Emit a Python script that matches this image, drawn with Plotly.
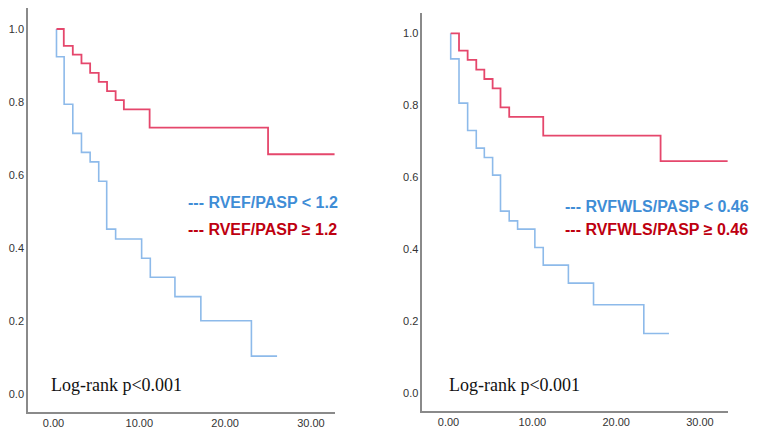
import plotly.graph_objects as go

W, H = 757, 435

# Left panel (RVEF/PASP)
left_blue_t = [0.35, 0.35, 1.24, 2.25, 3.26, 4.27, 5.27, 6.2, 7.24, 10.27, 11.28, 14.15, 17.17, 23.06, 26.05]
left_blue_s = [1.0, 0.924, 0.794, 0.714, 0.662, 0.636, 0.583, 0.452, 0.425, 0.372, 0.320, 0.267, 0.201, 0.104, 0.104]
left_red_t = [0.35, 1.2, 2.25, 3.26, 4.27, 5.27, 6.24, 7.24, 8.2, 11.2, 25.0, 32.75]
left_red_s = [1.0, 0.954, 0.930, 0.906, 0.880, 0.855, 0.830, 0.805, 0.780, 0.730, 0.657, 0.657]

# Right panel (RVFWLS/PASP)
right_blue_t = [0.26, 0.26, 1.25, 2.28, 3.31, 4.27, 5.26, 6.2, 7.24, 8.24, 10.3, 11.3, 14.3, 17.3, 23.3, 26.3]
right_blue_s = [1.0, 0.929, 0.806, 0.730, 0.681, 0.655, 0.606, 0.506, 0.479, 0.456, 0.405, 0.356, 0.306, 0.246, 0.166, 0.166]
right_red_t = [0.26, 1.25, 2.28, 3.31, 4.27, 5.26, 6.2, 7.24, 11.3, 25.3, 33.3]
right_red_s = [1.0, 0.952, 0.926, 0.899, 0.873, 0.847, 0.794, 0.768, 0.716, 0.645, 0.645]

x_ticks = [0, 10, 20, 30]
x_tick_labels = ["0.00", "10.00", "20.00", "30.00"]
y_ticks = [0.0, 0.2, 0.4, 0.6, 0.8, 1.0]
y_tick_labels = ["0.0", "0.2", "0.4", "0.6", "0.8", "1.0"]

legend_left = ["--- RVEF/PASP < 1.2", "--- RVEF/PASP ≥ 1.2"]
legend_right = ["--- RVFWLS/PASP < 0.46", "--- RVFWLS/PASP ≥ 0.46"]
pval_text = "Log-rank p<0.001"

BLUE = "#8DBAEA"
RED = "#E5476C"
LEG_BLUE = "#3F8DD6"
LEG_RED = "#BE0010"

fig = go.Figure()
fig.add_trace(go.Scatter(x=left_blue_t, y=left_blue_s, mode="lines", line=dict(shape="hv", color=BLUE, width=1.6), xaxis="x", yaxis="y"))
fig.add_trace(go.Scatter(x=left_red_t, y=left_red_s, mode="lines", line=dict(shape="hv", color=RED, width=1.8), xaxis="x", yaxis="y"))
fig.add_trace(go.Scatter(x=right_blue_t, y=right_blue_s, mode="lines", line=dict(shape="hv", color=BLUE, width=1.6), xaxis="x2", yaxis="y2"))
fig.add_trace(go.Scatter(x=right_red_t, y=right_red_s, mode="lines", line=dict(shape="hv", color=RED, width=1.8), xaxis="x2", yaxis="y2"))

axis_common = dict(showgrid=False, zeroline=False, showline=True, linecolor="#8a8a8a", linewidth=1.5,
                   ticks="", tickfont=dict(family="Liberation Sans, Arial", size=11, color="#333333"))

fig.update_layout(
    width=W, height=H,
    margin=dict(l=0, r=0, t=0, b=0),
    paper_bgcolor="white", plot_bgcolor="white",
    showlegend=False,
    xaxis=dict(domain=[28 / W, 335 / W], range=[-2.97, 32.8], tickvals=x_ticks, ticktext=x_tick_labels,
               anchor="y", **axis_common),
    yaxis=dict(domain=[(H - 412) / H, (H - 8) / H], range=[-0.049, 1.0575], tickvals=y_ticks, ticktext=y_tick_labels,
               anchor="x", **axis_common),
    xaxis2=dict(domain=[422.3 / W, 728.3 / W], range=[-3.13, 33.38], tickvals=x_ticks, ticktext=x_tick_labels,
                anchor="y2", **axis_common),
    yaxis2=dict(domain=[(H - 410.7) / H, (H - 12.7) / H], range=[-0.0483, 1.0572], tickvals=y_ticks, ticktext=y_tick_labels,
                anchor="x2", **axis_common),
)

ann = []
leg_font = "Liberation Sans, Arial"
ann.append(dict(x=186 / W, y=(H - 202.5) / H, xref="paper", yref="paper", xanchor="left", yanchor="middle",
                text="<b>" + legend_left[0].replace("<", "&lt;") + "</b>", showarrow=False,
                font=dict(family=leg_font, size=16, color=LEG_BLUE)))
ann.append(dict(x=186 / W, y=(H - 229) / H, xref="paper", yref="paper", xanchor="left", yanchor="middle",
                text="<b>" + legend_left[1] + "</b>", showarrow=False,
                font=dict(family=leg_font, size=16, color=LEG_RED)))
ann.append(dict(x=563 / W, y=(H - 206.7) / H, xref="paper", yref="paper", xanchor="left", yanchor="middle",
                text="<b>" + legend_right[0].replace("<", "&lt;") + "</b>", showarrow=False,
                font=dict(family=leg_font, size=16, color=LEG_BLUE)))
ann.append(dict(x=563 / W, y=(H - 229.3) / H, xref="paper", yref="paper", xanchor="left", yanchor="middle",
                text="<b>" + legend_right[1] + "</b>", showarrow=False,
                font=dict(family=leg_font, size=16, color=LEG_RED)))
ann.append(dict(x=49 / W, y=(H - 385) / H, xref="paper", yref="paper", xanchor="left", yanchor="middle",
                text=pval_text.replace("<", "&lt;"), showarrow=False,
                font=dict(family="Liberation Serif, Times New Roman", size=18, color="#111111")))
ann.append(dict(x=446.5 / W, y=(H - 385) / H, xref="paper", yref="paper", xanchor="left", yanchor="middle",
                text=pval_text.replace("<", "&lt;"), showarrow=False,
                font=dict(family="Liberation Serif, Times New Roman", size=18, color="#111111")))
fig.update_layout(annotations=ann)

fig.write_html("out.html")
